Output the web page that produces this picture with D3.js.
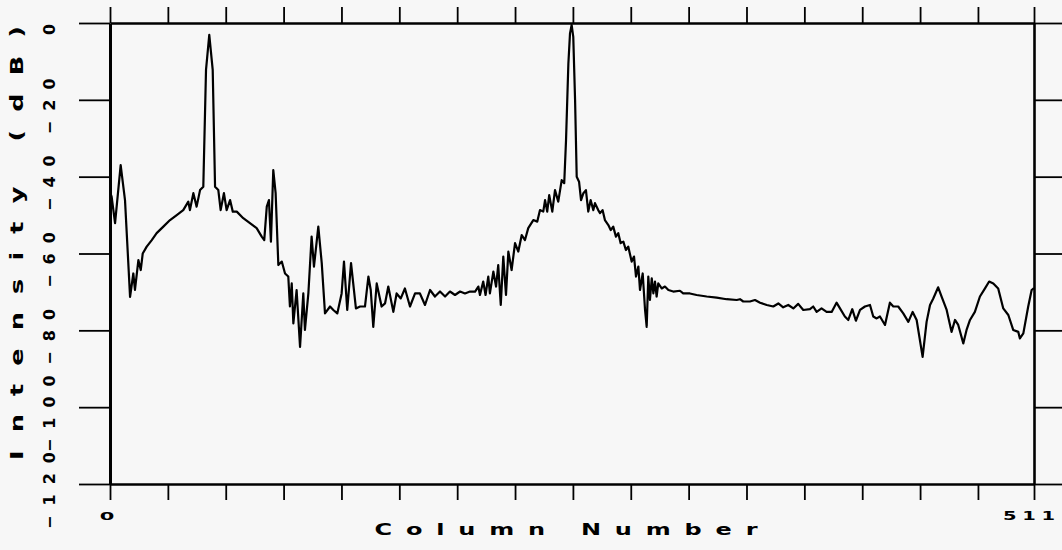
<!DOCTYPE html>
<html>
<head>
<meta charset="utf-8">
<script src="https://cdn.jsdelivr.net/npm/d3@7"></script>
<style>
  html, body { margin: 0; padding: 0; background: #f7f7f7; }
  svg { display: block; }
  text { font-family: "DejaVu Sans", "Liberation Sans", sans-serif; font-weight: bold; fill: #000; }
</style>
</head>
<body>
<svg id="chart"></svg>
<script>
// column numbers and intensities (dB)
const column = [
  0, 0.9, 2.8, 5.9, 8.3, 11.1, 12.9, 13.8, 15.7, 17, 18.1, 20.3, 23.1, 25.8, 29.5, 33.2, 36.9, 40.5, 43.3, 44.2,
  46.1, 47.9, 49.8, 51.6, 53.1, 54.9, 56.8, 58.1, 59.9, 61.2, 63.0, 64.5, 66.4, 67.9, 70.1, 73.7, 77.4, 81.1, 83.9, 85.3,
  86.7, 87.9, 89.0, 90.3, 91.6, 93.1, 95.0, 96.8, 98.6, 99.5, 100.5, 101.4, 103.2, 105.1, 106.9, 107.8, 109.7, 111.5, 112.8, 115.2,
  117.1, 118.9, 121.7, 123.5, 125.7, 128.1, 129.4, 131.2, 133.3, 136.0, 138.3, 141.0, 142.9, 144.2, 145.6, 147.5, 150.2, 152.1, 153.9, 156.7,
  158.5, 160.8, 163.1, 165.9, 168.7, 171.4, 174.2, 177.0, 179.7, 182.5, 185.3, 188.0, 190.8, 193.6, 196.3, 199.1, 201.9, 203.7, 204.6, 206.4,
  207.7, 209.2, 210.1, 212.0, 213.5, 214.7, 216.1, 217.5, 219.0, 220.3, 222.1, 224.0, 225.8, 227.7, 229.5, 231.3, 234.1, 236.3, 237.8, 239.6,
  240.6, 241.8, 242.9, 244.6, 246.1, 247.9, 249.8, 251.2, 252.2, 253.5, 254.4, 255.3, 256.2, 257.2, 258.1, 259.4, 260.5, 261.8, 263.2, 264.5,
  265.8, 267.3, 268.2, 270.0, 271.0, 272.4, 273.7, 275.6, 276.9, 278.3, 279.8, 281.1, 282.4, 283.9, 285.3, 286.6, 288.5, 289.8, 290.9, 292.2,
  293.1, 294.6, 295.9, 296.8, 297.7, 298.6, 299.6, 300.5, 301.4, 302.3, 303.2, 305.1, 306.9, 308.8, 311.5, 315.2, 317.0, 320.7, 324.4, 330.0,
  335.5, 341.0, 346.6, 348.4, 350.2, 353.9, 356.7, 359.5, 363.2, 366.8, 369.6, 372.3, 375.1, 377.9, 380.6, 383.4, 387.1, 388.9, 390.8, 393.5,
  396.3, 399.1, 401.8, 403.7, 406.4, 408.3, 410.5, 412.5, 414.8, 417.5, 420.3, 422.1, 424.0, 425.8, 428.6, 431.3, 433.2, 435.9, 438.7, 441.5,
  443.9, 446.1, 449.4, 451.6, 453.5, 455.3, 458.0, 459.9, 462.7, 465.4, 467.3, 469.1, 471.9, 473.7, 475.6, 478.3, 481.1, 483.9, 486.2, 488.5,
  491.2, 494.0, 496.8, 499.5, 502.3, 503.2, 505.1, 507.8, 509.7, 511
];
const intensityDb = [
  -44.0, -45.2, -52.1, -37.0, -46.1, -71.3, -65.2, -69.5, -61.7, -64.3, -60.0, -58.2, -56.5, -54.7, -53.0, -51.3, -50.0, -48.7, -46.5, -48.7,
  -44.3, -47.8, -43.5, -42.6, -12.2, -3.1, -12.2, -42.6, -43.5, -48.7, -44.3, -48.7, -46.1, -49.1, -49.1, -50.8, -52.1, -53.4, -55.6, -56.5,
  -47.8, -46.1, -56.9, -38.3, -44.3, -63.0, -62.1, -65.2, -66.0, -73.8, -67.8, -78.2, -69.5, -84.3, -70.4, -79.9, -70.4, -55.6, -63.4, -53.0,
  -62.5, -75.6, -73.8, -74.7, -75.6, -70.4, -62.1, -74.7, -62.5, -74.3, -73.8, -73.8, -66.0, -69.5, -79.1, -67.8, -73.8, -73.0, -68.6, -75.2,
  -70.4, -71.7, -69.1, -73.8, -70.4, -70.4, -73.4, -69.5, -71.2, -69.9, -71.2, -69.9, -70.8, -69.9, -70.4, -69.9, -69.9, -68.6, -70.8, -67.3,
  -70.8, -66.0, -70.4, -64.7, -68.6, -63.0, -73.4, -60.8, -70.8, -59.5, -64.3, -57.3, -59.5, -55.2, -56.5, -53.4, -51.3, -51.7, -48.7, -49.1,
  -46.1, -49.1, -44.8, -49.1, -43.5, -46.5, -40.9, -41.7, -30.5, -10.5, -2.7, -0.5, -3.6, -20.0, -40.0, -41.3, -46.1, -44.3, -43.5, -49.1,
  -46.1, -48.7, -46.9, -48.7, -49.5, -48.7, -51.3, -52.6, -53.9, -53.0, -55.6, -54.7, -57.3, -56.9, -59.1, -58.2, -62.1, -60.8, -66.0, -63.4,
  -69.5, -65.2, -74.7, -79.1, -66.0, -72.1, -66.5, -70.4, -67.3, -71.2, -67.8, -69.1, -68.6, -69.5, -69.9, -69.7, -70.4, -70.4, -70.8, -71.2,
  -71.5, -71.9, -72.1, -71.9, -72.5, -72.5, -72.1, -72.8, -73.4, -73.8, -73.0, -74.0, -73.4, -74.3, -73.1, -74.7, -74.5, -73.8, -75.2, -74.3,
  -75.2, -75.2, -72.8, -74.3, -76.4, -77.3, -74.5, -77.5, -74.7, -73.8, -73.4, -76.4, -76.9, -76.4, -78.6, -72.8, -73.8, -73.8, -75.6, -77.8,
  -75.2, -77.3, -86.9, -77.8, -73.4, -71.7, -68.8, -71.2, -74.7, -80.4, -77.3, -78.6, -83.4, -79.9, -77.3, -75.2, -71.2, -69.1, -67.3, -67.8,
  -69.1, -74.3, -76.0, -79.9, -80.4, -82.1, -80.8, -73.8, -69.5, -69.0
];

const xTicks = [0, 32, 64, 96, 128, 160, 192, 224, 256, 288, 320, 352, 384, 416, 448, 480, 511];
const xTickLabels = ["0", "511"];
const yTicks = [0, -20, -40, -60, -80, -100, -120];
const xTitle = "Column Number";
const yTitle = "Intensity (dB)";

const width = 1062, height = 550;
const margin = { top: 23, right: 28, bottom: 66, left: 110 };
const stretch = 1.5; // the plotter font is much wider than it is tall

const svg = d3.select("#chart").attr("width", width).attr("height", height);

const x = d3.scaleLinear().domain([0, 511]).range([margin.left, width - margin.right]);
const y = d3.scaleLinear().domain([-120, 0]).range([height - margin.bottom, margin.top]);

const points = column.map((c, i) => ({ c, v: intensityDb[i] }));

function styleAxis(g, w) {
  g.select(".domain").attr("stroke", "#000").attr("stroke-width", w);
  g.selectAll(".tick line").attr("stroke", "#000").attr("stroke-width", 1.8);
  g.selectAll(".tick text").remove();
}

// frame with outward ticks on all four sides
svg.append("g")
  .attr("transform", `translate(0,${y(-120)})`)
  .call(d3.axisBottom(x).tickValues(xTicks).tickSize(16).tickSizeOuter(0))
  .call((g) => styleAxis(g, 2.6));

svg.append("g")
  .attr("transform", `translate(0,${y(0)})`)
  .call(d3.axisTop(x).tickValues(xTicks).tickSize(16).tickSizeOuter(0))
  .call((g) => styleAxis(g, 2.6));

const yLeft = svg.append("g")
  .attr("transform", `translate(${x(0)},0)`)
  .call(d3.axisLeft(y).tickValues(yTicks).tickSize(31).tickSizeOuter(0))
  .call((g) => styleAxis(g, 3));

svg.append("g")
  .attr("transform", `translate(${x(511)},0)`)
  .call(d3.axisRight(y).tickValues(yTicks).tickSize(28).tickSizeOuter(0))
  .call((g) => styleAxis(g, 2.6));

// rotated y tick labels
yLeft.selectAll(".tick")
  .append("text")
  .attr("transform", "translate(-61,6) rotate(-90)")
  .attr("text-anchor", "middle")
  .attr("dy", "0.36em")
  .attr("font-size", 16)
  .attr("letter-spacing", 10)
  .attr("dx", 5)
  .text((d) => d3.format("d")(d));

// x tick labels only at the ends
svg.append("text")
  .attr("transform", `translate(${x(0) - 3},516) scale(${stretch},0.8)`)
  .attr("dy", "0.36em")
  .attr("text-anchor", "middle")
  .attr("font-size", 14)
  .text(xTickLabels[0]);

svg.append("text")
  .attr("transform", `translate(1003,516) scale(${stretch},0.9)`)
  .attr("dy", "0.36em")
  .attr("font-size", 13)
  .attr("textLength", 52 / stretch)
  .attr("lengthAdjust", "spacing")
  .text(xTickLabels[1]);

// axis titles
svg.append("text")
  .attr("transform", `translate(566,529) scale(${stretch},1)`)
  .attr("dy", "0.36em")
  .attr("text-anchor", "middle")
  .attr("font-size", 16)
  .attr("textLength", 383 / stretch)
  .attr("lengthAdjust", "spacing")
  .text(xTitle);

svg.append("text")
  .attr("transform", `translate(17,243) rotate(-90) scale(${stretch},1)`)
  .attr("dy", "0.36em")
  .attr("text-anchor", "middle")
  .attr("font-size", 17)
  .attr("textLength", 434 / stretch)
  .attr("lengthAdjust", "spacing")
  .text(yTitle);

// the trace
const line = d3.line()
  .x((d) => x(d.c))
  .y((d) => y(d.v));

svg.append("path")
  .datum(points)
  .attr("fill", "none")
  .attr("stroke", "#000")
  .attr("stroke-width", 2.2)
  .attr("stroke-linejoin", "round")
  .attr("d", line);
</script>
</body>
</html>
